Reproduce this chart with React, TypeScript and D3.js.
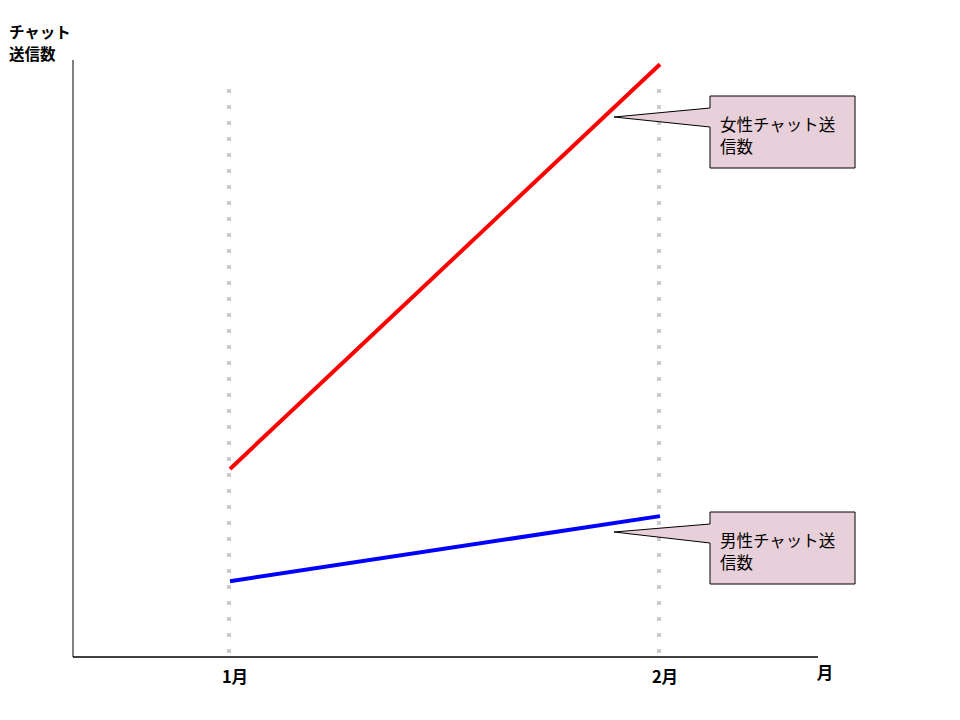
import * as d3 from "d3";

// data (no y ticks, so values are on a 0–100 scale)
const months = ["1月", "2月"];
const femaleChats = [31.5, 99.3];
const maleChats = [12.7, 23.6];
const femaleLabel = ["女性チャット送", "信数"];
const maleLabel = ["男性チャット送", "信数"];
const yTitle = ["チャット", "送信数"];
const xTitle = "月";

const width = 960;
const height = 720;
const marginTop = 60;
const marginLeft = 73;
const axisBottom = 657;
const axisRight = 818;
const font = "'Noto Sans CJK JP', 'Liberation Sans', sans-serif";

function Callout({
  x,
  y,
  tipX,
  tipY,
  lines,
}: {
  x: number;
  y: number;
  tipX: number;
  tipY: number;
  lines: string[];
}) {
  const w = 145;
  const h = 72;
  const p = d3.path();
  p.moveTo(x, y);
  p.lineTo(x + w, y);
  p.lineTo(x + w, y + h);
  p.lineTo(x, y + h);
  p.lineTo(x, y + 31);
  p.lineTo(tipX, tipY);
  p.lineTo(x, y + 12);
  p.closePath();
  return (
    <g>
      <path d={p.toString()} fill="#e8d0da" stroke="#000" strokeWidth={1} />
      {lines.map((t, i) => (
        <text
          key={i}
          x={x + 10}
          y={y + 35 + i * 22}
          fontFamily={font}
          fontSize={16.5}
          fill="#000"
        >
          {t}
        </text>
      ))}
    </g>
  );
}

export default function App() {
  const x = d3.scalePoint<string>().domain(months).range([230, 660]);
  const y = d3.scaleLinear().domain([0, 100]).range([axisBottom, marginTop]);
  const line = d3
    .line<number>()
    .x((d, i) => x(months[i]) as number)
    .y((d) => y(d));

  return (
    <svg
      width={width}
      height={height}
      style={{ position: "absolute", left: 0, top: 0, background: "#fff" }}
    >
      {/* dotted month gridlines */}
      {months.map((m) => (
        <line
          key={m}
          x1={(x(m) as number) - 1}
          x2={(x(m) as number) - 1}
          y1={89}
          y2={axisBottom}
          stroke="#cccccc"
          strokeWidth={4}
          strokeDasharray="4 12"
        />
      ))}

      {/* axes */}
      <line x1={marginLeft} x2={marginLeft} y1={marginTop} y2={axisBottom} stroke="#000" strokeWidth={1} />
      <line x1={marginLeft} x2={axisRight} y1={axisBottom} y2={axisBottom} stroke="#000" strokeWidth={1.5} />

      {/* series */}
      <path d={line(femaleChats) as string} fill="none" stroke="#f00" strokeWidth={4} />
      <path d={line(maleChats) as string} fill="none" stroke="#00f" strokeWidth={4} />

      {/* x tick labels */}
      {months.map((m) => (
        <text
          key={m}
          x={(x(m) as number) + 5}
          y={683}
          textAnchor="middle"
          fontFamily={font}
          fontWeight={700}
          fontSize={16.5}
        >
          {m}
        </text>
      ))}
      <text x={825} y={679} textAnchor="middle" fontFamily={font} fontWeight={700} fontSize={16.5}>
        {xTitle}
      </text>

      {/* y title */}
      {yTitle.map((t, i) => (
        <text key={i} x={9} y={38 + i * 22} fontFamily={font} fontWeight={700} fontSize={15.5}>
          {t}
        </text>
      ))}

      <Callout x={710} y={96} tipX={614} tipY={117} lines={femaleLabel} />
      <Callout x={710} y={512} tipX={614} tipY={532} lines={maleLabel} />
    </svg>
  );
}
